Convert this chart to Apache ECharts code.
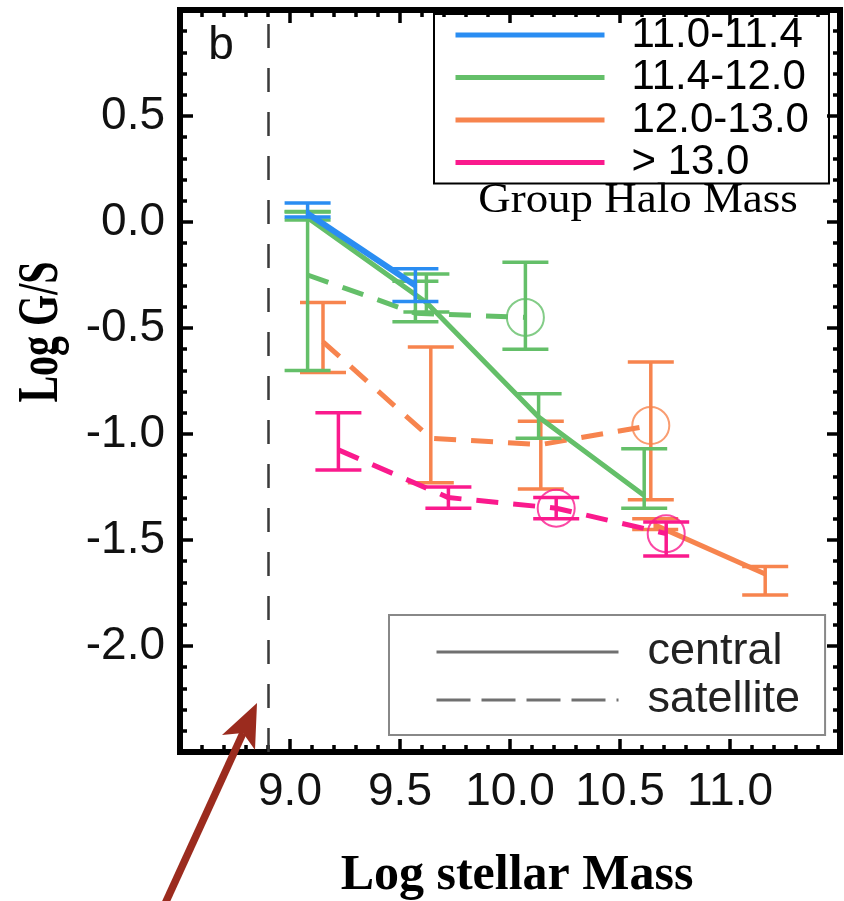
<!DOCTYPE html>
<html>
<head>
<meta charset="utf-8">
<script src="https://cdn.jsdelivr.net/npm/echarts@6/dist/echarts.min.js"></script>
<style>
  html, body { margin: 0; padding: 0; background: #fff; }
  #chart { width: 844px; height: 901px; }
</style>
</head>
<body>
<div id="chart"></div>
<script>
var GROUPS = ['11.0-11.4', '11.4-12.0', '12.0-13.0', '> 13.0'];
var COLORS = ['#2a8df2', '#64bf69', '#f7844e', '#fa1a8d'];
var LAYER = [7, 5, 4, 6];   // blue sits on top of green in the picture

// one point: [log stellar mass, log G/S, error up, error down]
var blueCen   = [[9.08, 0.04, 0.05, 0.016], [9.57, -0.30, 0.08, 0.075]];
var greenCen  = [[9.08, 0.02, 0.027, 0.01], [9.62, -0.38, 0.135, 0.045], [10.13, -0.92, 0.11, 0.10], [10.61, -1.29, 0.22, 0.06]];
var orangeCen = [[10.66, -1.43, 0.03, 0.02], [11.16, -1.66, 0.035, 0.10]];
var pinkCen   = [];

var blueSat   = [];
var greenSat  = [[9.08, -0.25, 0.30, 0.45], [9.57, -0.43, 0.15, 0.04], [10.07, -0.45, 0.26, 0.15]];
var orangeSat = [[9.15, -0.565, 0.185, 0.145], [9.64, -1.02, 0.43, 0.21], [10.14, -1.05, 0.11, 0.21], [10.64, -0.96, 0.30, 0.35]];
var pinkSat   = [[9.22, -1.075, 0.175, 0.095], [9.72, -1.30, 0.05, 0.05], [10.21, -1.35, 0.05, 0.05], [10.71, -1.47, 0.055, 0.105]];

// satellite points marked with an open circle (index in the sat arrays)
var satCircled = [[], [2], [3], [2, 3]];

var MASS_LIMIT = 8.9;

var central = [blueCen, greenCen, orangeCen, pinkCen];
var satellite = [blueSat, greenSat, orangeSat, pinkSat];

function errRender(params, api) {
  var x = api.value(0), y = api.value(1);
  var top = api.coord([x, y + api.value(2)]);
  var bot = api.coord([x, y - api.value(3)]);
  var hw = 23;
  var st = { stroke: api.visual('color'), lineWidth: 3.5 };
  return {
    type: 'group',
    children: [
      { type: 'line', shape: { x1: top[0], y1: top[1], x2: bot[0], y2: bot[1] }, style: st },
      { type: 'line', shape: { x1: top[0] - hw, y1: top[1], x2: top[0] + hw, y2: top[1] }, style: st },
      { type: 'line', shape: { x1: bot[0] - hw, y1: bot[1], x2: bot[0] + hw, y2: bot[1] }, style: st }
    ]
  };
}

var series = [];
for (var i = 0; i < GROUPS.length; i++) {
  var col = COLORS[i];
  var lw = i === 0 ? 6 : 5;
  if (central[i].length) {
    series.push({
      type: 'line', name: GROUPS[i], symbol: 'none', silent: true, z: LAYER[i],
      data: central[i].map(function (d) { return [d[0], d[1]]; }),
      itemStyle: { color: col },
      lineStyle: { color: col, width: lw }
    });
  }
  if (satellite[i].length) {
    series.push({
      type: 'line', name: GROUPS[i], symbol: 'none', silent: true, z: LAYER[i],
      data: satellite[i].map(function (d) { return [d[0], d[1]]; }),
      itemStyle: { color: col },
      lineStyle: { color: col, width: lw, type: [22, 15] }
    });
  }
  series.push({
    type: 'custom', name: 'err ' + GROUPS[i], renderItem: errRender, silent: true, z: LAYER[i],
    data: central[i].concat(satellite[i]),
    encode: { x: 0, y: 1 },
    itemStyle: { color: col }
  });
  if (satCircled[i].length) {
    series.push({
      type: 'scatter', name: 'circ ' + GROUPS[i], silent: true, z: LAYER[i],
      symbol: 'circle', symbolSize: 37,
      data: satCircled[i].map(function (k) { return [satellite[i][k][0], satellite[i][k][1]]; }),
      itemStyle: { color: 'rgba(0,0,0,0)', borderColor: col, borderWidth: 2 }
    });
  }
}

// vertical dashed mass limit
series[0].markLine = {
  silent: true, symbol: 'none', animation: false,
  label: { show: false },
  lineStyle: { color: '#3a3a3a', width: 2.5, type: [24, 20] },
  data: [{ xAxis: MASS_LIMIT }]
};

// dummy series for the line-style legend
series.push({ type: 'line', name: 'central', symbol: 'none', data: [],
  itemStyle: { color: '#707070' }, lineStyle: { color: '#707070', width: 3 } });
series.push({ type: 'line', name: 'satellite', symbol: 'none', data: [],
  itemStyle: { color: '#707070' }, lineStyle: { color: '#707070', width: 3, type: [34, 11] } });

function axisBase(show) {
  return {
    type: 'value',
    axisLine: { show: true, onZero: false, lineStyle: { color: '#000', width: 6, cap: 'square' } },
    axisTick: { show: true, inside: true, length: 13, lineStyle: { color: '#000', width: 3.5 } },
    minorTick: { show: true, splitNumber: 5, length: 7, lineStyle: { color: '#000', width: 3.5 } },
    splitLine: { show: false },
    minorSplitLine: { show: false },
    axisLabel: {
      show: show, fontFamily: 'Liberation Sans', fontSize: 46, color: '#111',
      showMinLabel: false, showMaxLabel: false,
      formatter: function (v) { return v.toFixed(1); }
    }
  };
}

var xBottom = Object.assign(axisBase(true), {
  position: 'bottom', min: 8.5, max: 11.5, interval: 0.5,
  name: 'Log stellar Mass', nameLocation: 'middle', nameGap: 99, nameMoveOverlap: false,
  nameTextStyle: { fontFamily: 'Liberation Serif', fontWeight: 'bold', fontSize: 50, color: '#000', padding: [0, 0, 0, 14] }
});
xBottom.axisLabel.margin = 17;
var xTop = Object.assign(axisBase(false), { position: 'top', min: 8.5, max: 11.5, interval: 0.5 });
var yLeft = Object.assign(axisBase(true), { position: 'left', min: -2.5, max: 1.0, interval: 0.5 });
yLeft.axisLabel.margin = 15;
var yRight = Object.assign(axisBase(false), { position: 'right', min: -2.5, max: 1.0, interval: 0.5 });

var option = {
  animation: false,
  backgroundColor: '#fff',
  grid: { left: 180, right: 4, top: 10, bottom: 149, containLabel: false, outerBoundsMode: 'none' },
  xAxis: [xBottom, xTop],
  yAxis: [yLeft, yRight],
  legend: [{
    orient: 'vertical', left: 434, top: 14,
    data: GROUPS, selectedMode: false,
    itemWidth: 149, itemHeight: 20, itemGap: 0.5,
    padding: [0, 20, 0, 19],
    borderColor: '#000', borderWidth: 2,
    textStyle: { fontFamily: 'Liberation Sans', fontSize: 42, color: '#000', padding: [0, 0, 0, 22] },
    lineStyle: { width: 5, type: 'solid' },
    itemStyle: { opacity: 0 }
  }, {
    orient: 'vertical', left: 389, top: 615,
    data: ['central', 'satellite'], selectedMode: false,
    itemWidth: 182, itemHeight: 20, itemGap: 3,
    padding: [14.5, 25, 12.5, 46],
    borderColor: '#888', borderWidth: 2,
    textStyle: { fontFamily: 'Liberation Sans', fontSize: 45, color: '#222', padding: [0, 0, 0, 24] },
    lineStyle: { width: 3 },
    itemStyle: { opacity: 0 }
  }],
  graphic: [
    { type: 'text', x: 221, y: 46, silent: true,
      style: { text: 'b', font: '46px "Liberation Sans"', align: 'center', verticalAlign: 'middle', fill: '#111' } },
    { type: 'text', x: 638, y: 201, scaleX: 1.07, silent: true,
      style: { text: 'Group Halo Mass', font: '42px "Liberation Serif"', align: 'center', verticalAlign: 'middle', fill: '#000' } },
    { type: 'text', x: 43, y: 332, rotation: Math.PI / 2, scaleY: 1.4, silent: true,
      style: { text: 'Log G/S', font: 'bold 40px "Liberation Serif"', align: 'center', verticalAlign: 'middle', fill: '#000' } },
    // annotation arrow pointing at the mass limit
    { type: 'line', silent: true, z: 100,
      shape: { x1: 164, y1: 906, x2: 243, y2: 733 },
      style: { stroke: '#9b2b1e', lineWidth: 7.5 } },
    { type: 'polygon', silent: true, z: 100,
      shape: { points: [[257, 703], [222, 735], [243, 733], [255, 750]] },
      style: { fill: '#9b2b1e' } }
  ],
  series: series
};

var myChart = echarts.init(document.getElementById('chart'));
myChart.setOption(option);
window.addEventListener('resize', myChart.resize);
</script>
</body>
</html>
